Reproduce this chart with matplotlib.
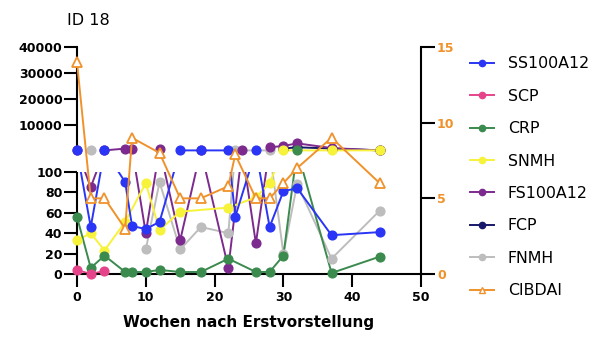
import numpy as np
import matplotlib
matplotlib.use("Agg")
import matplotlib.pyplot as plt
from matplotlib.lines import Line2D
from matplotlib.patches import Rectangle

plt.rcParams['font.family'] = ['DejaVu Sans']

U = 300  # values far above 100 (shown in the upper, compressed segment)

ss100a12_wk = [0, 2, 4, 7, 8, 10, 12, 15, 18, 22, 23, 26, 28, 30, 32, 37, 44]
ss100a12 = [U, 46, U, 90, 47, 44, 51, U, U, U, 56, U, 46, 81, 84, 38, 41]

scp_wk = [0, 2, 4]
scp = [4, 0, 3]

crp_wk = [0, 2, 4, 7, 8, 10, 12, 15, 18, 22, 26, 28, 30, 32, 37, 44]
crp = [56, 6, 18, 2, 2, 2, 4, 2, 2, 15, 2, 2, 18, U, 1, 17]

snmh_wk = [0, 2, 4, 7, 10, 12, 15, 22, 26, 28, 30, 37, 44]
snmh = [33, 40, 23, 51, 89, 43, 61, 65, 75, 89, U, U, U]

fs100a12_wk = [0, 2, 4, 7, 8, 10, 12, 15, 18, 22, 24, 26, 28, 30, 32, 37, 44]
fs100a12 = [U, 85, U, 1000, 1000, 40, 1000, 33, U, 6, U, 30, 1500, 2000, 3000, 1200, U]

fcp_wk = [30, 32, 37, 44]
fcp = [1000, 1500, 1000, U]

fnmh_wk = [2, 5, 10, 12, 15, 18, 22, 23, 28, 30, 32, 37, 44]
fnmh = [U, np.nan, 24, 90, 24, 46, 40, U, U, 20, 88, 15, 62]

cibdai_wk = [0, 2, 4, 7, 8, 12, 15, 18, 22, 23, 26, 28, 30, 32, 37, 44]
cibdai = [14, 5, 5, 3, 9, 8, 5, 5, 5.8, 7.9, 5, 5, 6, 7, 9, 6]

left_ticks = [0, 20, 40, 60, 80, 100, 10000, 20000, 30000, 40000]
right_ticks = [0, 5, 10, 15]
x_ticks = [0, 10, 20, 30, 40, 50]

series = [
    ("SS100A12", ss100a12_wk, ss100a12, "#2a35f5"),
    ("SCP", scp_wk, scp, "#e6448a"),
    ("CRP", crp_wk, crp, "#3b8a4e"),
    ("SNMH", snmh_wk, snmh, "#f7f23a"),
    ("FS100A12", fs100a12_wk, fs100a12, "#7d2a8e"),
    ("FCP", fcp_wk, fcp, "#17186a"),
    ("FNMH", fnmh_wk, fnmh, "#bdbdbd"),
]
orange = "#f0922b"


def fwd(y):
    y = np.asarray(y, dtype=float)
    lo = y * 1.02
    mid = 102 + (y - 100) / 50.0 * 21
    hi = 123 + (y - 150) * 0.0026
    return np.where(y <= 100, lo, np.where(y < 150, mid, hi))


def inv(p):
    p = np.asarray(p, dtype=float)
    lo = p / 1.02
    mid = 100 + (p - 102) / 21.0 * 50
    hi = 150 + (p - 123) / 0.0026
    return np.where(p <= 102, lo, np.where(p < 123, mid, hi))


fig = plt.figure(figsize=(6.09, 3.38), dpi=100)
ax = fig.add_axes([0.1264, 0.1893, 0.5649, 0.6717])
ax.set_yscale('function', functions=(fwd, inv))
ax.set_xlim(0, 50)
ax.set_ylim(0, 40000)

n = len(series)
for i, (name, wk, vals, col) in enumerate(series):
    z = 2 + (n - i) * 0.01
    ax.plot(wk, vals, color=col, lw=1.4, zorder=z, clip_on=False)
    ax.plot(wk, vals, ls='none', marker='o', ms=6.3, color=col, mec=col,
            zorder=4 + (n - i) * 0.01, clip_on=False)

# gap of the broken axis
ax.add_patch(Rectangle((0, 100), 50, 42, facecolor='white', edgecolor='none',
                       zorder=3))

ax.spines['left'].set_visible(False)
ax.spines['top'].set_visible(False)
ax.spines['right'].set_visible(False)
ax.spines['bottom'].set_linewidth(1.5)
ax.plot([0, 0], [0, 100], color='black', lw=1.5, clip_on=False, zorder=1)
ax.plot([0, 0], [190, 40000], color='black', lw=1.5, clip_on=False, zorder=1)

ax.set_yticks(left_ticks)
ax.set_yticklabels([str(t) for t in left_ticks], fontweight='bold', fontsize=9)
ax.set_xticks(x_ticks)
ax.set_xticklabels([str(t) for t in x_ticks], fontweight='bold', fontsize=9)
ax.tick_params(axis='y', direction='out', length=9.5, width=1.5, pad=1)
ax.tick_params(axis='x', direction='out', length=9.5, width=1.5, pad=3)
ax.set_xlabel("Wochen nach Erstvorstellung", fontweight='bold', fontsize=11,
              labelpad=8)
ax.set_title("ID 18", loc='left', x=-0.03, fontsize=11.5, pad=16)

ax2 = ax.twinx()
ax2.set_ylim(0, 15)
ax2.set_xlim(0, 50)
ax2.plot(cibdai_wk, cibdai, color=orange, lw=1.4, marker='^', ms=6.5,
         mfc='white', mec=orange, mew=1.3, clip_on=False, zorder=5)
for s in ['top', 'left', 'bottom']:
    ax2.spines[s].set_visible(False)
ax2.spines['right'].set_linewidth(1.5)
ax2.set_yticks(right_ticks)
ax2.set_yticklabels([str(t) for t in right_ticks], fontweight='bold',
                    fontsize=9, color=orange)
ax2.tick_params(axis='y', direction='out', length=10, width=1.5, pad=1.5,
                colors='black', labelcolor=orange)

handles = [Line2D([], [], color=c, lw=1.4, marker='o', ms=4.5) for _, _, _, c in series]
handles.append(Line2D([], [], color=orange, lw=1.4, marker='^', ms=5,
                      mfc='white', mec=orange))
labels = [s[0] for s in series] + ["CIBDAI"]
fig.legend(handles, labels, loc='upper left', bbox_to_anchor=(0.761, 0.852),
           frameon=False, fontsize=11.4, handlelength=1.5, labelspacing=1.1,
           handletextpad=0.9, borderaxespad=0)

fig.savefig("out.png", dpi=100)
